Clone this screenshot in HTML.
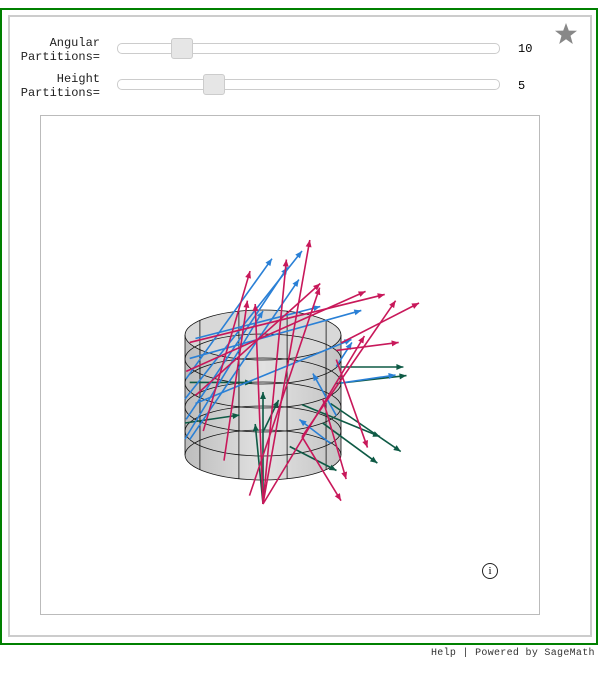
<!DOCTYPE html>
<html><head><meta charset="utf-8"><style>
body{margin:0;width:600px;height:691px;background:#fff;font-family:"Liberation Mono",monospace;position:relative;overflow:hidden}
.abs{position:absolute}
.lbl{font-size:12px;color:#222;text-align:right;width:100px;line-height:14px}
.track{height:9px;border:1px solid #ccc;border-radius:5px;background:#fff}
.thumb{width:20px;height:19px;background:#e6e6e6;border:1px solid #ccc;border-radius:3px}
</style></head><body>
<div class="abs" style="left:0;top:8px;width:594px;height:633px;border:2px solid #008000"></div>
<div class="abs" style="left:8px;top:15px;width:580px;height:618px;border:2px solid #ccc"></div>
<svg class="abs" style="left:554px;top:22px" width="24" height="24" viewBox="0 0 24 24"><polygon points="12,1 14.8,8.6 23,8.8 16.5,13.8 18.8,22 12,17.2 5.2,22 7.5,13.8 1,8.8 9.2,8.6" fill="#888"/></svg>
<div class="abs lbl" style="left:0;top:36px">Angular<br>Partitions=</div>
<div class="abs track" style="left:117px;top:43px;width:381px"></div>
<div class="abs thumb" style="left:171px;top:38px"></div>
<div class="abs" style="left:518px;top:42px;font-size:12px">10</div>
<div class="abs lbl" style="left:0;top:72px">Height<br>Partitions=</div>
<div class="abs track" style="left:117px;top:79px;width:381px"></div>
<div class="abs thumb" style="left:203px;top:74px"></div>
<div class="abs" style="left:518px;top:79px;font-size:12px">5</div>
<div class="abs" style="left:40px;top:115px;width:498px;height:498px;border:1px solid #bbb"></div>
<svg class="abs" style="left:0;top:0" width="600" height="691" id="svg">
<defs><linearGradient id="g" x1="0" x2="1"><stop offset="0" stop-color="#bdbdbd"/><stop offset="0.5" stop-color="#e2e2e2"/><stop offset="1" stop-color="#c4c4c4"/></linearGradient></defs>
</svg>
<div class="abs" style="left:482px;top:563px;width:14px;height:14px;border:1px solid #222;border-radius:50%;font-size:11px;text-align:center;line-height:14px;font-family:'Liberation Serif',serif">i</div>
<div class="abs" style="left:431px;top:648px;font-size:10px;color:#333;letter-spacing:0.3px">Help | Powered by SageMath</div>
<script>
const angularParts=10, heightParts=5, cylH=1.5;
const blue=[[180,0.7,1.5,0,1.85],[170,0.5,1.3,0,1.9],[190,0.9,1.1,0,1.5],[200,1.1,2.2,0,0.6],[160,0.3,1.4,0,2.0],[150,0.8,2.0,0,0.8],[210,1.3,1.6,0,0.4],[180,0.2,1.0,0,1.6],[20,0.6,-0.3,-0.4,0.4],[0,0.9,0.7,0,0.1],[30,0.3,-0.4,0,0.3],[340,1.0,0.2,0,0.3]];
const red=[[90,-0.3,0.6,0,3.3],[90,-0.3,0.3,-0.5,2.9],[90,-0.3,-0.1,0,2.5],[100,-0.2,0.9,0,2.6],[90,-0.3,1.3,0,2.1],[120,0.2,0.3,0,2.0],[140,0.5,0.6,0,2.0],[60,0.5,1.2,0,1.7],[150,0.9,1.6,0,1.4],[170,1.1,2.3,0,1.0],[200,1.3,2.5,0,0.6],[20,1.3,0.4,0,-1.1],[40,0.9,0.3,0,-1.0],[60,0.5,0.5,0,-0.8],[340,1.2,0.8,0,0.1],[0,1.4,1.0,0,0.5]];
const green=[[60,0.9,1.0,0,-0.4],[40,0.6,0.7,0,-0.5],[20,1.0,0.9,0,0.1],[70,0.4,0.6,0,-0.3],[30,0.8,0.9,0,-0.6],[90,0.6,0.2,0,0.4],[90,-0.3,0,0,1.4],[90,-0.3,-0.1,0,1.0],[180,0.4,0.7,0,0.1],[200,0.8,0.8,0,0],[0,1.1,0.8,0,0]];
const CX=263,BY=455,RX=78,RY=25,SZ=80;
function px(x){return CX+RX*x}
function py(y,z){return BY-SZ*z+RY*y}
const svg=document.getElementById('svg');const NS='http://www.w3.org/2000/svg';
function mk(t,a){const e=document.createElementNS(NS,t);for(const k in a)e.setAttribute(k,a[k]);svg.appendChild(e);return e}
const body=mk('path',{d:`M${CX-RX},${py(0,cylH)} L${CX-RX},${BY} A${RX},${RY} 0 0 0 ${CX+RX},${BY} L${CX+RX},${py(0,cylH)} Z`,fill:'url(#g)',stroke:'none'});


const topEll=mk('ellipse',{cx:CX,cy:py(0,cylH),rx:RX,ry:RY,fill:'#d8d8d8'});


for(let i=0;i<=heightParts;i++){const z=cylH*i/heightParts;
 const e=mk('ellipse',{cx:CX,cy:py(0,z),rx:RX,ry:RY,fill:'none',stroke:'#111','stroke-width':0.8});
 
 }
for(let j=0;j<angularParts;j++){const t=2*Math.PI*j/angularParts,x=Math.cos(t),y=Math.sin(t);
 const l=mk('line',{x1:px(x),y1:py(y,0),x2:px(x),y2:py(y,cylH),stroke:'#111','stroke-width':0.8});
 
 }
function arrows(arr,col,name){arr.forEach(a=>{const t=a[0]*Math.PI/180,x=Math.cos(t),y=Math.sin(t);
 const x1=px(x),y1=py(y,a[1]),x2=px(x+a[2]),y2=py(y+a[3],a[1]+a[4]);
 const l=mk('line',{x1,y1,x2,y2,stroke:col,'stroke-width':1.6});
 
 
 const ang=Math.atan2(y2-y1,x2-x1),h=7,w=3;
 const bx=x2-h*Math.cos(ang),by=y2-h*Math.sin(ang);
 const p=mk('polygon',{points:`${x2},${y2} ${bx-w*Math.sin(ang)},${by+w*Math.cos(ang)} ${bx+w*Math.sin(ang)},${by-w*Math.cos(ang)}`,fill:col});
 
 });}
arrows(green,'#0e5a45','green-arrow');
arrows(blue,'#2a80d6','blue-arrow');
arrows(red,'#c8185a','red-arrow');
</script>
</body></html>
